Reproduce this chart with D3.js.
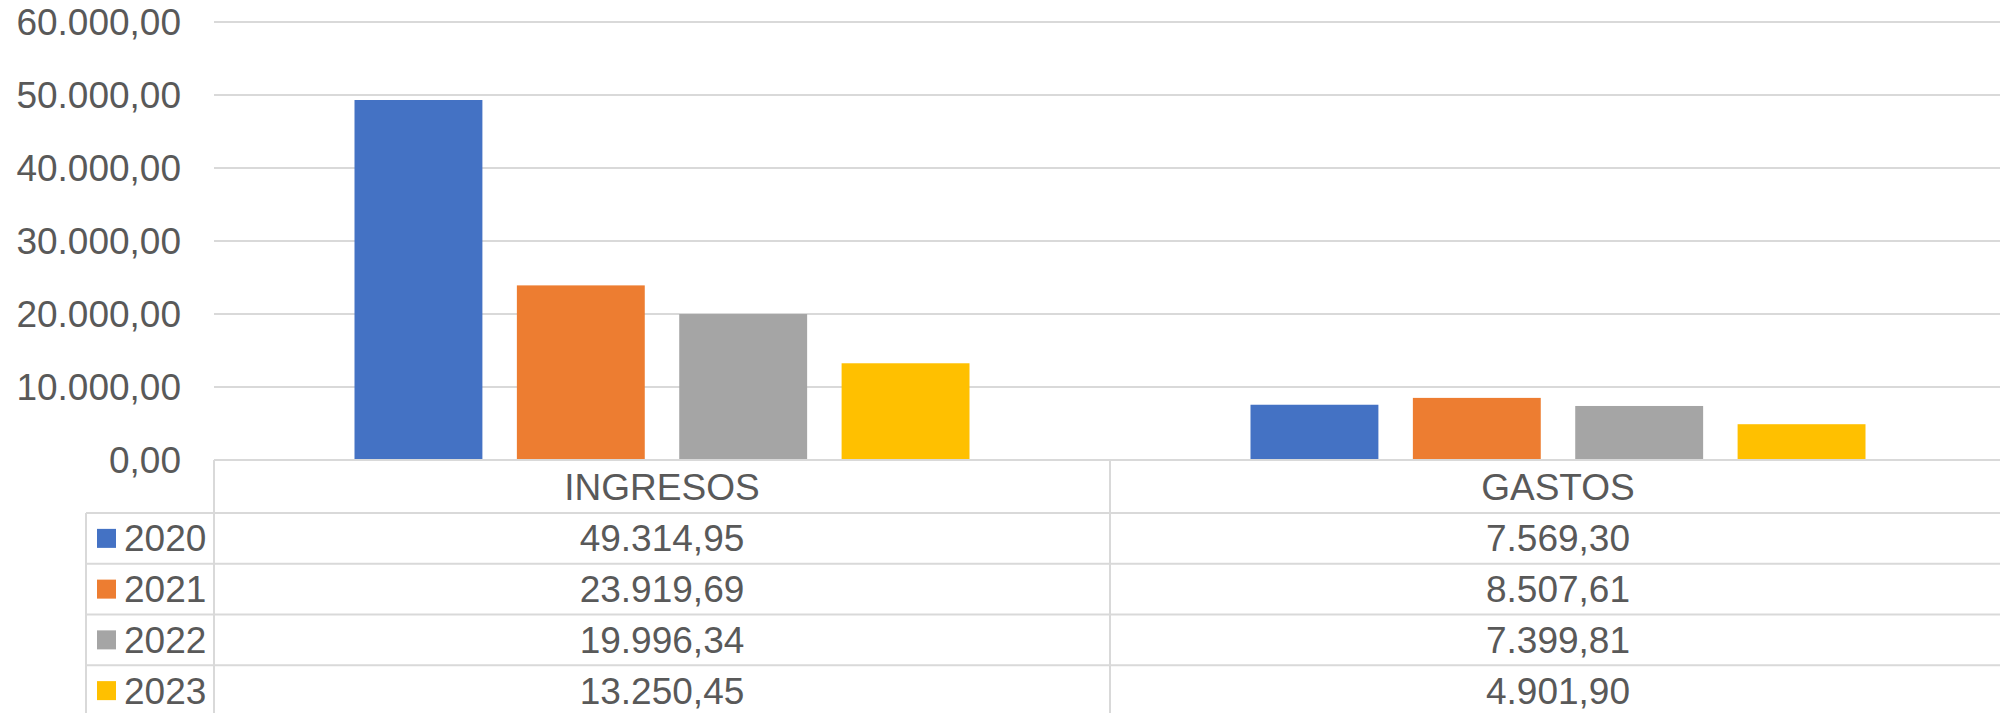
<!DOCTYPE html>
<html>
<head>
<meta charset="utf-8">
<script src="https://cdn.jsdelivr.net/npm/d3@7"></script>
<style>
  html, body { margin: 0; padding: 0; background: #ffffff; }
  svg { display: block; }
  text { font-family: "Liberation Sans", Arial, sans-serif; fill: #595959; }
</style>
</head>
<body>
<svg id="chart" width="2000" height="713"></svg>
<script>
// ---- data ----
const categories = ["INGRESOS", "GASTOS"];
const years = ["2020", "2021", "2022", "2023"];
const values2020 = [49314.95, 7569.30];
const values2021 = [23919.69, 8507.61];
const values2022 = [19996.34, 7399.81];
const values2023 = [13250.45, 4901.90];
const yTicks = [0, 10000, 20000, 30000, 40000, 50000, 60000];
const colors = ["#4472C4", "#ED7D31", "#A5A5A5", "#FFC000"];

const seriesValues = [values2020, values2021, values2022, values2023];

// ---- layout ----
const W = 2000, H = 713;
const plotLeft = 214, plotRight = 2006;
const plotTop = 22, plotBottom = 460;
const legendLeft = 86;
const headerBottom = 513;
const tableBottom = 716;
const fontSize = 37;
const gridColor = "#d9d9d9";

const locale = d3.formatLocale({decimal: ",", thousands: ".", grouping: [3], currency: ["", ""]});
const fmt = locale.format(",.2f");

const svg = d3.select("#chart");

const y = d3.scaleLinear().domain([0, 60000]).range([plotBottom, plotTop]);
const x0 = d3.scaleBand().domain(categories).range([plotLeft, plotRight]).paddingInner(0).paddingOuter(0);
const groupInset = 140.5;
const x1 = d3.scaleBand().domain(years)
  .range([groupInset, x0.bandwidth() - groupInset])
  .paddingInner(0.2123).paddingOuter(0);

// gridlines
svg.append("g").selectAll("line").data(yTicks).join("line")
  .attr("x1", plotLeft).attr("x2", plotRight)
  .attr("y1", d => y(d)).attr("y2", d => y(d))
  .attr("stroke", gridColor).attr("stroke-width", 2);

// y tick labels
svg.append("g").selectAll("text").data(yTicks).join("text")
  .attr("x", 181).attr("y", d => y(d) + 13)
  .attr("text-anchor", "end")
  .attr("font-size", fontSize)
  .text(d => fmt(d));

// bars
const barG = svg.append("g");
years.forEach((yr, si) => {
  barG.append("g").selectAll("rect").data(categories.map((c, ci) => ({c, v: seriesValues[si][ci]})))
    .join("rect")
    .attr("x", d => x0(d.c) + x1(yr))
    .attr("width", x1.bandwidth())
    .attr("y", d => y(d.v))
    .attr("height", d => y(0) - y(d.v))
    .attr("fill", colors[si]);
});

// data table
const rowY = d3.scaleBand().domain(years).range([headerBottom, tableBottom]);
const tbl = svg.append("g");
// horizontal lines
tbl.append("line").attr("x1", plotLeft).attr("x2", plotRight).attr("y1", plotBottom).attr("y2", plotBottom)
  .attr("stroke", gridColor).attr("stroke-width", 2);
years.forEach(yr => {
  tbl.append("line").attr("x1", legendLeft).attr("x2", plotRight)
    .attr("y1", rowY(yr)).attr("y2", rowY(yr))
    .attr("stroke", gridColor).attr("stroke-width", 2);
});
// vertical lines
tbl.append("line").attr("x1", legendLeft).attr("x2", legendLeft).attr("y1", headerBottom).attr("y2", H)
  .attr("stroke", gridColor).attr("stroke-width", 2);
categories.forEach(c => {
  tbl.append("line").attr("x1", x0(c)).attr("x2", x0(c)).attr("y1", plotBottom).attr("y2", H)
    .attr("stroke", gridColor).attr("stroke-width", 2);
});
// header text
tbl.selectAll("text.hdr").data(categories).join("text").attr("class", "hdr")
  .attr("x", c => x0(c) + x0.bandwidth() / 2)
  .attr("y", (plotBottom + headerBottom) / 2 + 13)
  .attr("text-anchor", "middle").attr("font-size", fontSize)
  .text(c => c);
// legend keys and values
years.forEach((yr, si) => {
  const cy = rowY(yr) + rowY.bandwidth() / 2;
  tbl.append("rect").attr("x", 97).attr("y", cy - 9.5).attr("width", 19).attr("height", 19).attr("fill", colors[si]);
  tbl.append("text").attr("x", 124).attr("y", cy + 13).attr("font-size", fontSize).text(yr);
  categories.forEach((c, ci) => {
    tbl.append("text")
      .attr("x", x0(c) + x0.bandwidth() / 2)
      .attr("y", cy + 13)
      .attr("text-anchor", "middle").attr("font-size", fontSize)
      .text(fmt(seriesValues[si][ci]));
  });
});
</script>
</body>
</html>
